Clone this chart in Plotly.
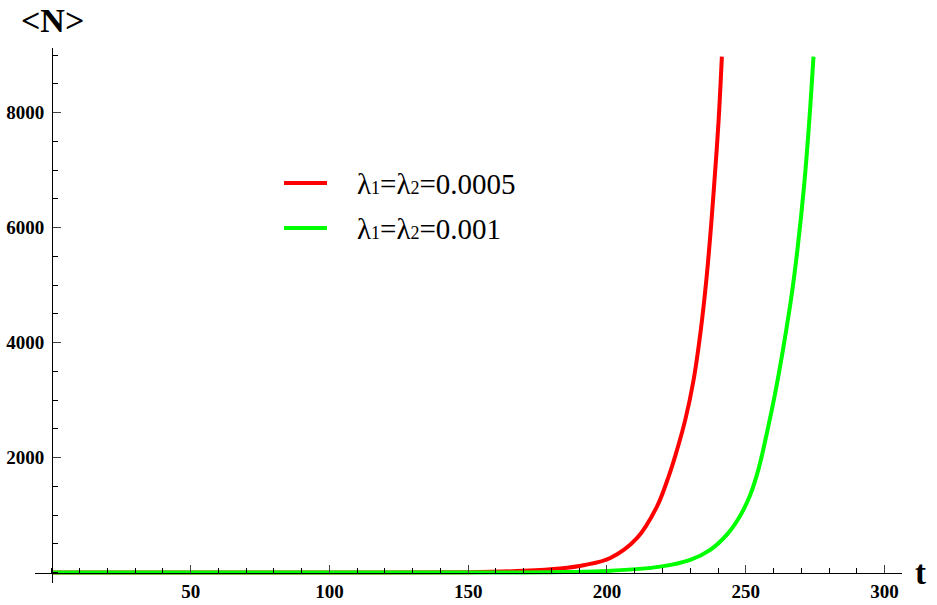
import plotly.graph_objects as go

# ---- data ----
t_red = [0, 50, 100, 150, 170, 183.1, 192, 201.2, 210.8, 218.0, 222.2, 224.6, 228.2,
         231.2, 233.8, 235.8, 237.2, 238.4, 240.2, 241.4]
n_red = [0, 0, 0.5, 8, 30, 70, 132, 255, 600, 1148, 1670, 2030, 2656,
         3350, 4220, 5090, 5850, 6600, 7850, 8974]

t_green = [0, 50, 100, 150, 170, 185, 200, 219.2, 230, 237.2, 243.2, 248.0, 251.6,
           254.6, 257.6, 260.6, 263.6, 266.6, 268.7, 271.1, 273.0, 274.4]
n_green = [0, 0, 0, 0.5, 3, 10, 28, 104, 221, 395, 660, 990, 1350,
           1800, 2424, 3120, 3930, 4850, 5650, 6772, 7930, 8974]

SUB = '<span style="font-size:18px">{}</span>'
series_names = ["λ" + SUB.format(1) + "=λ" + SUB.format(2) + "=0.0005",
                "λ" + SUB.format(1) + "=λ" + SUB.format(2) + "=0.001"]
series_colors = ["#ff0000", "#00ff00"]

x_tickvals = [50, 100, 150, 200, 250, 300]
y_tickvals = [2000, 4000, 6000, 8000]

x_range = [-6.1, 306.3]
y_range = [-181, 9125]

# figure geometry
W, H = 937, 605
ML, MR, MT, MB = 35, 35, 48, 22
PW, PH = W - ML - MR, H - MT - MB


def px_to_paper(px, py):
    return (px - ML) / PW, (H - MB - py) / PH


fig = go.Figure()
for t, n, name, col in [(t_red, n_red, series_names[0], series_colors[0]),
                        (t_green, n_green, series_names[1], series_colors[1])]:
    fig.add_trace(go.Scatter(x=t, y=n, mode="lines", name=name,
                             line=dict(color=col, width=4, shape="spline", smoothing=1.0),
                             showlegend=False))

tickfont = dict(family="Liberation Serif", size=19, color="black", weight="bold")

fig.update_layout(
    width=W, height=H,
    margin=dict(l=ML, r=MR, t=MT, b=MB, autoexpand=False),
    plot_bgcolor="white", paper_bgcolor="white",
    xaxis=dict(range=x_range, anchor="free",
               position=(0 - y_range[0]) / (y_range[1] - y_range[0]),
               showgrid=False, zeroline=False, showline=True, linecolor="black", linewidth=1,
               tickmode="array", tickvals=x_tickvals, ticktext=[str(v) for v in x_tickvals],
               ticks="inside", ticklen=8, tickwidth=1, tickcolor="#444",
               minor=dict(tickmode="linear", tick0=0, dtick=10, ticks="inside", ticklen=5,
                          tickcolor="black", tickwidth=1, showgrid=False),
               tickfont=tickfont, ticklabelstandoff=2, automargin=False),
    yaxis=dict(range=y_range, anchor="free",
               position=(0 - x_range[0]) / (x_range[1] - x_range[0]),
               showgrid=False, zeroline=False, showline=True, linecolor="black", linewidth=1,
               tickmode="array", tickvals=y_tickvals, ticktext=[str(v) for v in y_tickvals],
               ticks="inside", ticklen=8, tickwidth=1, tickcolor="#444",
               minor=dict(tickmode="linear", tick0=0, dtick=500, ticks="inside", ticklen=5,
                          tickcolor="black", tickwidth=1, showgrid=False),
               tickfont=tickfont, ticklabelstandoff=4, automargin=False),
    showlegend=False,
)

# axis titles
ax, ay = px_to_paper(52, 20)
fig.add_annotation(x=ax, y=ay, xref="paper", yref="paper", text="&lt;N&gt;", showarrow=False,
                   font=dict(family="Liberation Serif", size=34, color="black", weight="bold"),
                   xanchor="center", yanchor="middle")
ax, ay = px_to_paper(920, 573)
fig.add_annotation(x=ax, y=ay, xref="paper", yref="paper", text="t", showarrow=False,
                   font=dict(family="Liberation Serif", size=33, color="black", weight="bold"),
                   xanchor="center", yanchor="middle")

# legend (drawn manually to match sample-line length)
for i, (name, col) in enumerate(zip(series_names, series_colors)):
    ly = 183 + 45 * i
    x0, y0 = px_to_paper(284, ly)
    x1, _ = px_to_paper(327, ly)
    fig.add_shape(type="line", xref="paper", yref="paper", x0=x0, x1=x1, y0=y0, y1=y0,
                  line=dict(color=col, width=4))
    tx, ty = px_to_paper(355, ly + 1)
    fig.add_annotation(x=tx, y=ty, xref="paper", yref="paper", text=name, showarrow=False,
                       font=dict(family="Liberation Serif", size=29, color="black"),
                       xanchor="left", yanchor="middle")

fig.write_html("out.html")
